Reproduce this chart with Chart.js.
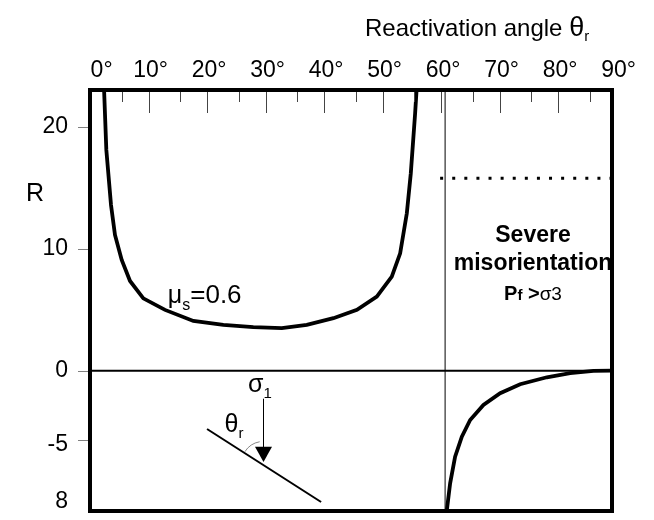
<!DOCTYPE html>
<html><head><meta charset="utf-8">
<script src="https://cdn.jsdelivr.net/npm/chart.js@4.4.1/dist/chart.umd.min.js"></script>
<style>html,body{margin:0;padding:0;background:#fff}</style>
</head><body>
<canvas id="c" width="654" height="520"></canvas>
<script>
// ---- data ----
const xTickValues = [0, 10, 20, 30, 40, 50, 60, 70, 80, 90];
const xTickLabels = ['   0°', '10°', '20°', '30°', '40°', '50°', '60°', '70°', '80°', '90°'];
const xMajorTicks = [10, 20, 30, 40, 50, 60, 70, 80];
const xMinorTicks = [5.4, 15.4, 25.4, 35.4, 45.4, 55.4, 65.4, 75.4, 85.4];
const yTickValues = [20, 10, 0, -5.68];
const yLabelValues = [-10.7, -6.1, 0, 10, 20];
const yTickLabels = ['8', '-5', '0', '10', '20'];

const upperTheta = [2.36, 2.79, 3.59, 4.27, 5.42, 6.84, 9.11, 12.82, 17.66, 22.79, 27.91, 32.77, 37.04, 41.59, 45.62, 49.01, 51.57, 53.0, 54.14, 54.82, 55.56, 55.86];
const upperR     = [23.6, 18.09, 13.58, 11.12, 9.07, 7.35, 5.93, 4.98, 4.07, 3.75, 3.56, 3.48, 3.75, 4.30, 4.98, 6.07, 7.70, 9.62, 12.90, 16.18, 21.10, 23.42];
const lowerTheta = [60.94, 61.54, 62.39, 63.54, 64.96, 67.23, 70.09, 73.5, 78.07, 82.05, 86.03, 89.2];
const lowerR     = [-11.58, -9.23, -7.05, -5.41, -4.04, -2.81, -1.85, -1.11, -0.54, -0.21, -0.02, 0];

const dottedLevel = 15.77;
const dottedRange = [59.83, 89.2];
const refLineTheta = 60.68;

const X_MIN = 0, X_MAX = 89.2, Y_MIN = -11.5, Y_MAX = 23;

const toPts = (xs, ys) => xs.map((v, i) => ({x: v, y: ys[i]}));
const FONT = '"Liberation Sans", Arial, sans-serif';

function richText(ctx, parts, x, y, align) {
  let w = 0;
  parts.forEach(p => { ctx.font = p.font; p.w = ctx.measureText(p.t).width; w += p.w; });
  let cx = align === 'center' ? x - w / 2 : x;
  parts.forEach(p => {
    ctx.font = p.font; ctx.textAlign = 'left'; ctx.textBaseline = 'alphabetic';
    ctx.fillText(p.t, cx, y + (p.dy || 0));
    cx += p.w;
  });
}

const decor = {
  id: 'decor',
  afterDatasetsDraw(chart) {
    const {ctx, chartArea: a, scales: {x, y}} = chart;
    const X = v => x.getPixelForValue(v), Y = v => y.getPixelForValue(v);
    ctx.save();
    // top axis tick marks (inside)
    ctx.lineWidth = 1; ctx.strokeStyle = '#444';
    const vline = (v, len) => { const p = Math.round(X(v)) + 0.5; ctx.beginPath(); ctx.moveTo(p, a.top); ctx.lineTo(p, a.top + len); ctx.stroke(); };
    xMajorTicks.forEach(v => vline(v, 23));
    xMinorTicks.forEach(v => vline(v, 12));
    // left axis tick marks (outside)
    ctx.strokeStyle = '#808080';
    yTickValues.forEach(v => { const p = Math.round(Y(v)) + 0.5; ctx.beginPath(); ctx.moveTo(a.left - 12, p); ctx.lineTo(a.left, p); ctx.stroke(); });
    // frame
    ctx.lineWidth = 4; ctx.strokeStyle = '#000';
    ctx.strokeRect(a.left, a.top, a.right - a.left, a.bottom - a.top);

    ctx.fillStyle = '#000';
    // axis title
    richText(ctx, [
      {t: 'Reactivation angle ', font: '24px ' + FONT},
      {t: 'θ', font: '27px ' + FONT},
      {t: 'r', font: '15px ' + FONT, dy: 5}
    ], 365, 36, 'left');
    // R label
    ctx.font = '25px ' + FONT; ctx.textAlign = 'center'; ctx.textBaseline = 'middle';
    ctx.fillText('R', a.left - 55, Y(14.5));
    // mu label
    richText(ctx, [
      {t: 'μ', font: '25px ' + FONT},
      {t: 's', font: '16px ' + FONT, dy: 7},
      {t: '=0.6', font: '26px ' + FONT}
    ], X(13.3), Y(5.58), 'left');
    // severe misorientation
    ctx.font = 'bold 23px ' + FONT; ctx.textAlign = 'center'; ctx.textBaseline = 'alphabetic';
    ctx.fillText('Severe', X(75.7), 242);
    ctx.fillText('misorientation', X(75.7), 270);
    richText(ctx, [
      {t: 'P', font: 'bold 20px ' + FONT},
      {t: 'f', font: 'bold 15px ' + FONT},
      {t: ' >', font: 'bold 20px ' + FONT},
      {t: 'σ3', font: '19px ' + FONT}
    ], X(75.7), 300, 'center');

    // fault sketch
    ctx.lineWidth = 2; ctx.strokeStyle = '#000';
    ctx.beginPath(); ctx.moveTo(X(20.0), Y(-4.78)); ctx.lineTo(X(39.49), Y(-10.76)); ctx.stroke();
    const ax = Math.round(X(29.52)) + 0.5;
    ctx.lineWidth = 1;
    ctx.beginPath(); ctx.moveTo(ax, Y(-2.3)); ctx.lineTo(ax, Y(-6.3)); ctx.stroke();
    ctx.beginPath(); ctx.moveTo(ax - 8.5, Y(-6.23)); ctx.lineTo(ax + 8.5, Y(-6.23)); ctx.lineTo(ax, Y(-7.48)); ctx.closePath(); ctx.fill();
    // angle arc
    ctx.strokeStyle = '#888'; ctx.lineWidth = 1;
    ctx.beginPath(); ctx.arc(ax, Y(-7.6), 22, -148 * Math.PI / 180, -100 * Math.PI / 180); ctx.stroke();
    // sigma1 and theta_r
    richText(ctx, [
      {t: 'σ', font: '25px ' + FONT},
      {t: '1', font: '15px ' + FONT, dy: 6}
    ], X(27.0), Y(-1.75), 'left');
    richText(ctx, [
      {t: 'θ', font: '25px ' + FONT},
      {t: 'r', font: '15px ' + FONT, dy: 6}
    ], X(23.0), Y(-5.0), 'left');
    ctx.restore();
  }
};

const line = (data, w, extra) => Object.assign({
  data, borderColor: '#000', borderWidth: w, pointRadius: 0, showLine: true, tension: 0, fill: false
}, extra || {});

const noPad = s => { s.paddingTop = 0; s.paddingBottom = 0; s.paddingLeft = 0; s.paddingRight = 0; };

new Chart(document.getElementById('c'), {
  type: 'scatter',
  data: {
    datasets: [
      line([{x: X_MIN, y: 0}, {x: X_MAX, y: 0}], 2),
      line([{x: refLineTheta, y: Y_MIN}, {x: refLineTheta, y: Y_MAX}], 1),
      line([{x: dottedRange[0], y: dottedLevel}, {x: dottedRange[1], y: dottedLevel}], 3, {borderDash: [3, 9.1], borderCapStyle: 'butt'}),
      line(toPts(upperTheta, upperR), 3.8),
      line(toPts(lowerTheta, lowerR), 3.8)
    ]
  },
  plugins: [decor],
  options: {
    responsive: false, animation: false, devicePixelRatio: 1,
    layout: {padding: {left: 0, top: 0, right: 42, bottom: 9}},
    plugins: {legend: {display: false}, tooltip: {enabled: false}, title: {display: false}},
    scales: {
      x: {
        type: 'linear', position: 'top', min: X_MIN, max: X_MAX,
        afterBuildTicks: s => { s.ticks = xTickValues.map(v => ({value: v})); },
        afterFit: s => { s.height = 90; noPad(s); },
        grid: {display: true, drawOnChartArea: false, drawTicks: false},
        border: {display: false},
        ticks: {autoSkip: false, maxRotation: 0, padding: 6, color: '#000',
          font: {family: FONT, size: 23}, labelOffset: 2,
          callback: (v, i) => xTickLabels[i]}
      },
      y: {
        type: 'linear', position: 'left', min: Y_MIN, max: Y_MAX,
        afterBuildTicks: s => { s.ticks = yLabelValues.map(v => ({value: v})); },
        afterFit: s => { s.width = 90; noPad(s); },
        grid: {display: true, drawOnChartArea: false, drawTicks: false},
        border: {display: false},
        ticks: {autoSkip: false, padding: 22, color: '#000',
          font: {family: FONT, size: 23},
          callback: (v, i) => yTickLabels[i]}
      }
    }
  }
});
</script>
</body></html>
